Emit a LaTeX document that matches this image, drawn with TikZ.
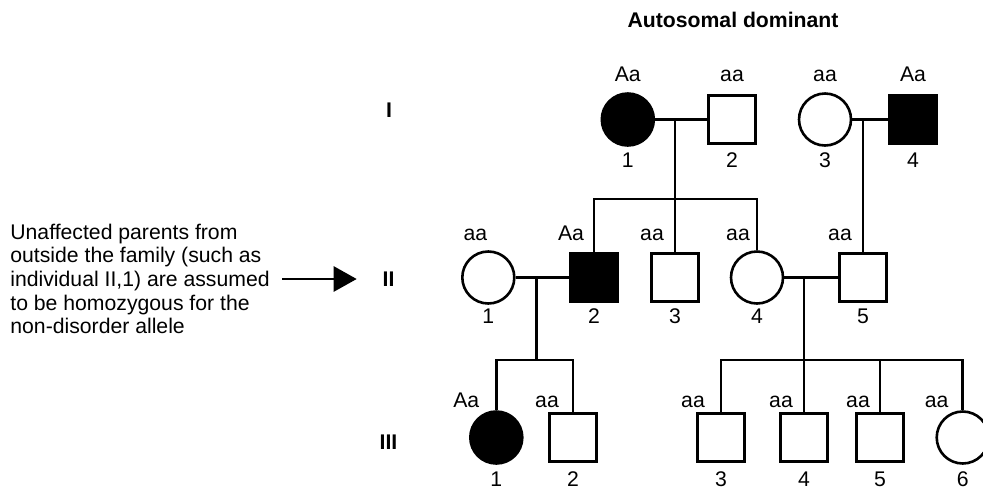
\documentclass[tikz,border=0pt]{standalone}
\usepackage{fontspec}
\setmainfont{Liberation Sans}
\usepackage{tikz}
\usetikzlibrary{arrows.meta}

\newcommand{\pedfont}{\fontsize{10.6pt}{11.85pt}\selectfont}

\tikzset{
  person/.style={draw, line width=1.3pt, inner sep=0pt},
  male/.style={person, rectangle, minimum size=23.75pt},
  female/.style={person, circle, minimum size=26pt},
  aff/.style={fill=black},
  gt/.style={yshift=22.75pt},
  nr/.style={yshift=-20.25pt},
  gtl/.style={gt, xshift=-11.5pt},
  link/.style={line width=1.3pt},
  gen/.style={font=\pedfont\bfseries, inner sep=0pt},
}

\begin{document}
\begin{tikzpicture}[x=0.5pt, y=-0.5pt, every node/.style={font=\pedfont},
    every label/.style={inner sep=0pt, text height=7.5pt, text depth=0pt}]
    \useasboundingbox (0,0) rectangle (983,488);
    \clip (0,0) rectangle (983,488);

    \node[font=\pedfont\bfseries] (title) at (733,20) {Autosomal dominant};

    % generations
    \node[gen] (gI) at (389,110) {I};
    \node[gen] (gII) at (388.5,279) {II};
    \node[gen] (gIII) at (388.5,442.5) {III};

    % note on the left
    \node[align=left, anchor=west, inner sep=0pt] (note) at (10,279) {Unaffected parents from\\outside the family (such as\\individual II,1) are assumed\\to be homozygous for the\\non-disorder allele};
    \draw[link, -{Triangle[length=11.5pt, width=12.5pt]}, shorten <=6pt, shorten >=12.75pt] (note.east |- gII) -- (gII.west);

    % generation I
    \node[female, aff, label={[gt]center:Aa}, label={[nr]center:1}] (I1) at (627.8,119.5) {};
    \node[male, label={[gt]center:aa}, label={[nr]center:2}] (I2) at (732,119.5) {};
    \node[female, label={[gt]center:aa}, label={[nr]center:3}] (I3) at (825,119.5) {};
    \node[male, aff, label={[gt]center:Aa}, label={[nr]center:4}] (I4) at (913,119.5) {};

    % generation II
    \begin{scope}[gt/.style={yshift=22.1pt}, nr/.style={yshift=-19pt}]
    \node[female, label={[gt,xshift=-6.5pt]center:aa}, label={[nr]center:1}] (II1) at (488.3,277.5) {};
    \node[male, aff, label={[gtl]center:Aa}, label={[nr]center:2}] (II2) at (594,277.5) {};
    \node[male, label={[gtl]center:aa}, label={[nr]center:3}] (II3) at (675,277.5) {};
    \node[female, label={[gt,xshift=-9.5pt]center:aa}, label={[nr]center:4}] (II4) at (757,277.5) {};
    \node[male, label={[gtl]center:aa}, label={[nr]center:5}] (II5) at (863,277.5) {};
    \end{scope}

    % generation III
    \begin{scope}[gt/.style={yshift=18.75pt}, nr/.style={yshift=-20.7pt}]
    \node[female, aff, label={[gt,xshift=-15pt]center:Aa}, label={[nr]center:1}] (III1) at (496.3,437.5) {};
    \node[male, label={[gt,xshift=-13pt]center:aa}, label={[nr]center:2}] (III2) at (573,437.5) {};
    \node[male, label={[gt,xshift=-14pt]center:aa}, label={[nr]center:3}] (III3) at (721,437.5) {};
    \node[male, label={[gtl]center:aa}, label={[nr]center:4}] (III4) at (804,437.5) {};
    \node[male, label={[gt,xshift=-11pt]center:aa}, label={[nr]center:5}] (III5) at (880,437.5) {};
    \node[female, label={[gt,xshift=-13pt]center:aa}, label={[nr]center:6}] (III6) at (962.7,437.5) {};
    \end{scope}

    % matings and sibships
    \coordinate (s2) at (675,199);
    \coordinate (m3) at (536.7,277.5);
    \coordinate (s3) at (536.7,360);
    \coordinate (s4) at (804,360);

    \draw[link] (I1) -- (I2);
    \draw[link] (I1 -| II3) -- (II3);
    \draw[link] (II2.north) |- (s2) -| (II4.north);
    \draw[link] (I3) -- (I4);
    \draw[link] (I3 -| II5) -- (II5);

    \draw[link] (II1) -- (II2);
    \draw[link] (m3) -- (s3);
    \draw[link] (III1.north) |- (s3) -| (III2.north);
    \draw[link] (II4) -- (II5);
    \draw[link] (II4 -| III4) -- (III4);
    \draw[link] (III3.north) |- (s4) -| (III6.north);
    \draw[link] (III5.north) -- (III5.north |- s4);
\end{tikzpicture}
\end{document}
